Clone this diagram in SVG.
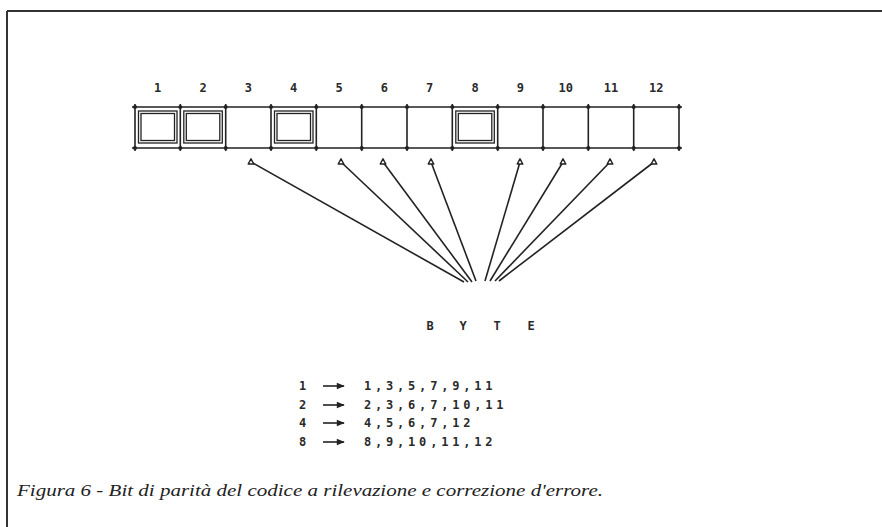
<svg xmlns="http://www.w3.org/2000/svg" width="882" height="527" viewBox="0 0 882 527">
<style>
.ln{stroke:#222;stroke-width:1.6;fill:none}
.sq{stroke:#222;stroke-width:1.3;fill:none}
.dot{fill:#222}
.mono{font-family:"DejaVu Sans Mono","Liberation Mono",monospace;font-size:12px;font-weight:bold;fill:#2a2a2a}
.lbl{text-anchor:middle}
.tbl{letter-spacing:3.8px}
.cap{font-family:"Liberation Serif",serif;font-style:italic;font-size:17px;fill:#222}
</style>
<defs>
<marker id="tri" viewBox="0 0 10 10" refX="5" refY="6" markerWidth="8" markerHeight="8" orient="0" markerUnits="userSpaceOnUse">
<path d="M1.5,8.5 L5,2 L8.5,8.5 Z" fill="#fff" stroke="#222" stroke-width="1.8" stroke-linejoin="round"/>
</marker>
<marker id="arr" viewBox="0 0 10 10" refX="9" refY="5" markerWidth="9" markerHeight="8" orient="auto" markerUnits="userSpaceOnUse">
<path d="M0,1 L10,5 L0,9 Z" fill="#222"/>
</marker>
</defs>
<rect width="882" height="527" fill="#fff"/>
<g id="frame">
<path d="M7,11 H882 M7,11 V527" stroke="#333" stroke-width="2" fill="none"/>
</g>
<g id="register">
<path class="ln" d="M132,107 H682 M132,148 H682"/>
<path class="ln" d="M135,104 V151 M180.3,104 V151 M225.7,104 V151 M271,104 V151 M316.3,104 V151 M361.7,104 V151 M407,104 V151 M452.3,104 V151 M497.7,104 V151 M543,104 V151 M588.3,104 V151 M633.7,104 V151 M679,104 V151"/>
<g class="dot">
<circle cx="135" cy="107" r="2"/><circle cx="180.3" cy="107" r="2"/><circle cx="225.7" cy="107" r="2"/><circle cx="271" cy="107" r="2"/><circle cx="316.3" cy="107" r="2"/><circle cx="361.7" cy="107" r="2"/><circle cx="407" cy="107" r="2"/><circle cx="452.3" cy="107" r="2"/><circle cx="497.7" cy="107" r="2"/><circle cx="543" cy="107" r="2"/><circle cx="588.3" cy="107" r="2"/><circle cx="633.7" cy="107" r="2"/><circle cx="679" cy="107" r="2"/>
<circle cx="135" cy="148" r="2"/><circle cx="180.3" cy="148" r="2"/><circle cx="225.7" cy="148" r="2"/><circle cx="271" cy="148" r="2"/><circle cx="316.3" cy="148" r="2"/><circle cx="361.7" cy="148" r="2"/><circle cx="407" cy="148" r="2"/><circle cx="452.3" cy="148" r="2"/><circle cx="497.7" cy="148" r="2"/><circle cx="543" cy="148" r="2"/><circle cx="588.3" cy="148" r="2"/><circle cx="633.7" cy="148" r="2"/><circle cx="679" cy="148" r="2"/>
</g>
</g>
<g id="parity1"><rect class="sq" x="138.5" y="111" width="38.5" height="32"/><rect class="sq" x="141" y="113.5" width="33.5" height="27"/></g>
<g id="parity2"><rect class="sq" x="183.8" y="111" width="38.5" height="32"/><rect class="sq" x="186.3" y="113.5" width="33.5" height="27"/></g>
<g id="parity4"><rect class="sq" x="274.5" y="111" width="38.5" height="32"/><rect class="sq" x="277" y="113.5" width="33.5" height="27"/></g>
<g id="parity8"><rect class="sq" x="455.8" y="111" width="38.5" height="32"/><rect class="sq" x="458.3" y="113.5" width="33.5" height="27"/></g>
<g id="labels" class="mono lbl">
<text x="157.7" y="92">1</text><text x="203" y="92">2</text><text x="248.3" y="92">3</text><text x="293.7" y="92">4</text><text x="339" y="92">5</text><text x="384.3" y="92">6</text><text x="429.7" y="92">7</text><text x="475" y="92">8</text><text x="520.3" y="92">9</text><text x="565.7" y="92">10</text><text x="611" y="92">11</text><text x="656.3" y="92">12</text>
</g>
<g id="connectors" class="ln" marker-start="url(#tri)">
<line x1="251" y1="162" x2="464" y2="282"/>
<line x1="341" y1="162" x2="468" y2="282"/>
<line x1="383" y1="162" x2="472" y2="282"/>
<line x1="431" y1="162" x2="476" y2="281"/>
<line x1="520" y1="162" x2="485" y2="281"/>
<line x1="563" y1="162" x2="490" y2="281"/>
<line x1="610" y1="162" x2="495" y2="281"/>
<line x1="654" y1="162" x2="499" y2="281"/>
</g>
<g id="byte" class="mono lbl">
<text x="430" y="330">B</text><text x="463" y="330">Y</text><text x="497" y="330">T</text><text x="531" y="330">E</text>
</g>
<g id="table">
<g class="mono">
<text x="299" y="390">1</text><text x="299" y="409">2</text><text x="299" y="427">4</text><text x="299" y="446">8</text>
</g>
<g stroke="#222" stroke-width="1.6" marker-end="url(#arr)">
<line x1="323" y1="386" x2="344" y2="386"/>
<line x1="323" y1="405" x2="344" y2="405"/>
<line x1="323" y1="423" x2="344" y2="423"/>
<line x1="323" y1="442" x2="344" y2="442"/>
</g>
<g class="mono tbl">
<text x="364" y="390">1,3,5,7,9,11</text>
<text x="364" y="409">2,3,6,7,10,11</text>
<text x="364" y="427">4,5,6,7,12</text>
<text x="364" y="446">8,9,10,11,12</text>
</g>
</g>
<g id="caption">
<text class="cap" x="17" y="496" textLength="586" lengthAdjust="spacingAndGlyphs">Figura 6 - Bit di parità del codice a rilevazione e correzione d'errore.</text>
</g>
</svg>
